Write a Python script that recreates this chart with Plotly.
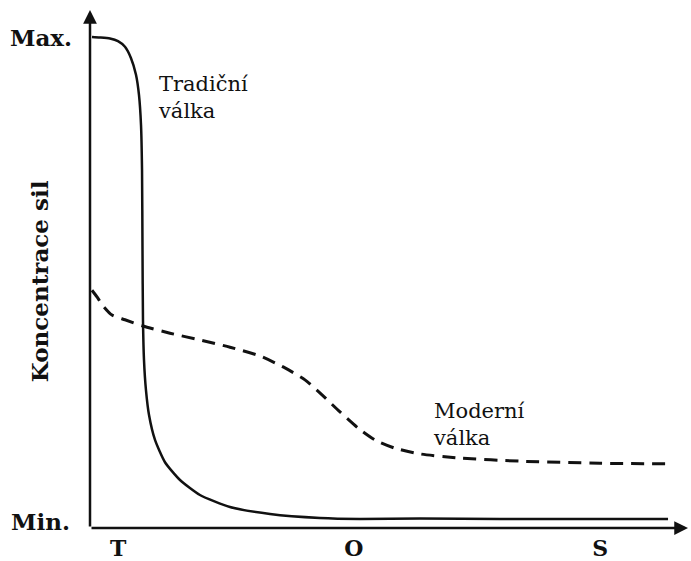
import plotly.graph_objects as go

# Data (time 0-100 on x, force concentration 0-100 on y)
trad_x = [0.33, 1.67, 3.34, 4.68, 5.85, 6.86, 7.69, 8.19, 8.53, 8.70, 8.78, 8.86, 9.03, 9.36, 9.87,
          10.87, 12.54, 15.05, 18.39, 23.41, 30.10, 38.46, 45.15, 55.18, 68.56, 96.66]
trad_y = [94.8, 94.7, 94.5, 94.0, 92.9, 90.7, 87.5, 83.6, 77.8, 69.1, 53.7, 40.2, 32.4, 26.6, 21.8,
          17.0, 12.7, 9.27, 6.37, 4.05, 2.70, 1.93, 1.74, 1.83, 1.74, 1.74]
mod_x = [0.33, 1.17, 2.17, 3.68, 5.85, 8.86, 13.38, 18.39, 23.41, 28.43, 32.61, 35.95, 38.80,
         41.81, 44.82, 47.66, 51.00, 55.18, 61.87, 71.91, 85.28, 96.66]
mod_y = [45.9, 44.6, 42.9, 41.1, 40.2, 39.0, 37.6, 36.3, 34.9, 33.2, 30.9, 28.6, 25.7,
         22.4, 19.3, 17.0, 15.4, 14.3, 13.5, 12.9, 12.5, 12.4]
tick_vals = [4.7, 44.1, 85.3]
tick_text = ["T", "O", "S"]
max_level = 94.6
min_level = 1.2

SERIF = "DejaVu Serif"
INK = "#111111"

fig = go.Figure()
fig.add_trace(go.Scatter(x=trad_x, y=trad_y, mode="lines",
                         line=dict(color=INK, width=2.5, shape="spline", smoothing=0.6),
                         cliponaxis=False, hoverinfo="skip"))
fig.add_trace(go.Scatter(x=mod_x, y=mod_y, mode="lines",
                         line=dict(color=INK, width=3, dash="13px,8px", shape="spline", smoothing=0.6),
                         cliponaxis=False, hoverinfo="skip"))

annotations = [
    # axes with arrowheads
    dict(x=0, y=100, ax=0, ay=0, xref="x", yref="y", axref="x", ayref="y", text="",
         showarrow=True, arrowhead=2, arrowsize=1.1, arrowwidth=2.5, arrowcolor=INK),
    dict(x=100, y=0, ax=0, ay=0, xref="x", yref="y", axref="x", ayref="y", text="",
         showarrow=True, arrowhead=2, arrowsize=1.1, arrowwidth=2.5, arrowcolor=INK),
    dict(x=0, y=max_level, xref="paper", yref="y", text="<b>Max.</b>", showarrow=False,
         xanchor="right", xshift=-16, font=dict(family=SERIF, size=23, color=INK)),
    dict(x=0, y=min_level, xref="paper", yref="y", text="<b>Min.</b>", showarrow=False,
         xanchor="right", xshift=-18, font=dict(family=SERIF, size=23, color=INK)),
    dict(x=-0.109, y=0.477, xref="paper", yref="paper", text="<b>Koncentrace sil</b>", showarrow=False,
         textangle=-90, font=dict(family=SERIF, size=23, color=INK)),
    dict(x=11.0, y=83.2, xref="x", yref="y", text="Tradiční<br>válka", showarrow=False,
         xanchor="left", yanchor="middle", align="left", font=dict(family=SERIF, size=21, color=INK)),
    dict(x=57.0, y=20.0, xref="x", yref="y", text="Moderní<br>válka", showarrow=False,
         xanchor="left", yanchor="middle", align="left", font=dict(family=SERIF, size=21, color=INK)),
]

fig.update_layout(
    width=691, height=561,
    margin=dict(l=90, r=3, t=10, b=33),
    paper_bgcolor="white", plot_bgcolor="white",
    showlegend=False,
    annotations=annotations,
    xaxis=dict(range=[0, 100], showgrid=False, zeroline=False, showline=False,
               automargin=False,
               tickmode="array", tickvals=tick_vals, ticktext=tick_text,
               ticks="", ticklabelstandoff=5,
               tickfont=dict(family=SERIF, size=22, color=INK, weight="bold")),
    yaxis=dict(range=[0, 100], showgrid=False, zeroline=False, showline=False,
               automargin=False, showticklabels=False, ticks=""),
)

fig.write_html("out.html", config={"displayModeBar": False},
               post_script="document.body.style.margin='0';")
